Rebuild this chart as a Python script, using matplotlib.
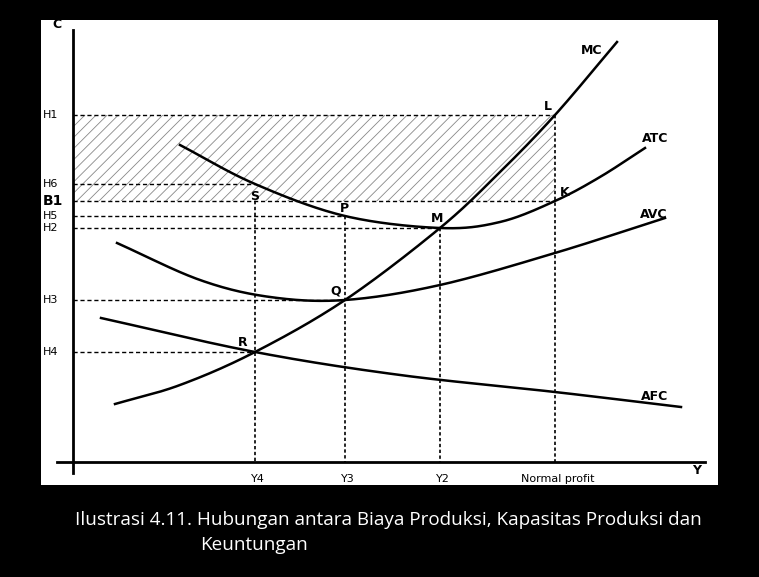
import matplotlib.pyplot as plt
import numpy as np
from matplotlib.patches import Rectangle

# curve points (image pixel coords, y down)
mc_x = [115, 180, 255, 345, 440, 500, 555, 617]
mc_y = [404, 385, 352, 300, 228, 172, 115, 42]
atc_x = [180, 255, 345, 440, 500, 555, 600, 645]
atc_y = [145, 184, 216, 228, 222, 201, 177, 148]
avc_x = [117, 200, 270, 345, 440, 555, 665]
avc_y = [243, 280, 297, 300, 285, 253, 218]
afc_x = [101, 255, 400, 555, 681]
afc_y = [318, 352, 375, 392, 407]

h_labels = ['H1', 'H6', 'B1', 'H5', 'H2', 'H3', 'H4']
h_vals = [115, 184, 201, 216, 228, 300, 352]
h_ends = [555, 255, 555, 345, 440, 345, 255]

y_labels = ['Y4', 'Y3', 'Y2', 'Normal profit']
y_vals = [255, 345, 440, 555]
y_tops = [201, 216, 228, 115]

points = {'S': (255, 197), 'P': (344, 208), 'M': (437, 219), 'Q': (336, 291),
          'R': (243, 343), 'L': (548, 106), 'K': (565, 192)}
curve_names = {'MC': (592, 51), 'ATC': (655, 138), 'AVC': (654, 214), 'AFC': (655, 397)}


def smooth(xs, ys):
    # catmull-rom through the read points
    p = np.column_stack([xs, ys]).astype(float)
    p = np.vstack([2 * p[0] - p[1], p, 2 * p[-1] - p[-2]])
    out = []
    t = np.linspace(0, 1, 40)[:, None]
    for i in range(1, len(p) - 2):
        p0, p1, p2, p3 = p[i - 1], p[i], p[i + 1], p[i + 2]
        out.append(0.5 * (2 * p1 + (-p0 + p2) * t + (2 * p0 - 5 * p1 + 4 * p2 - p3) * t ** 2
                          + (-p0 + 3 * p1 - 3 * p2 + p3) * t ** 3))
    out = np.vstack(out)
    return out[:, 0], out[:, 1]


plt.rcParams['hatch.linewidth'] = 0.6
fig = plt.figure(figsize=(7.59, 5.77), dpi=100, facecolor='black')
ax = fig.add_axes([41 / 759, 1 - 485 / 577, 677 / 759, 465 / 577])
ax.set_xlim(41, 718)
ax.set_ylim(485, 20)
ax.set_facecolor('white')
ax.set_xticks([])
ax.set_yticks([])
for s in ax.spines.values():
    s.set_visible(False)

ax.add_patch(Rectangle((73, 115), 555 - 73, 201 - 115, fill=False, hatch='///',
                       edgecolor='#888888', linewidth=0))

ax.plot([73, 73], [30, 473], color='black', lw=2)
ax.plot([57, 705], [462, 462], color='black', lw=2)
ax.text(57, 25, 'C', fontsize=9, fontweight='bold', ha='center', va='center')
ax.text(697, 470, 'Y', fontsize=9, fontweight='bold', ha='center', va='center')

for lab, v, e in zip(h_labels, h_vals, h_ends):
    ax.plot([73, e], [v, v], color='black', lw=1, ls=(0, (3, 2)))
    ax.text(43, v, lab, fontsize=10 if lab == 'B1' else 8,
            fontweight='bold' if lab == 'B1' else 'normal', va='center', ha='left')

for lab, v, top in zip(y_labels, y_vals, y_tops):
    ax.plot([v, v], [top, 462], color='black', lw=1.2, ls=(0, (2, 1.5)))
    ax.text(v + 3, 479, lab, fontsize=8, ha='center', va='center')

for xs, ys in [(mc_x, mc_y), (atc_x, atc_y), (avc_x, avc_y), (afc_x, afc_y)]:
    t, v = smooth(xs, ys)
    ax.plot(t, v, color='black', lw=1.8)

for k, (x, y) in points.items():
    ax.text(x, y, k, fontsize=9, fontweight='bold', ha='center', va='center')
for k, (x, y) in curve_names.items():
    ax.text(x, y, k, fontsize=9, fontweight='bold', ha='center', va='center')

fig.text(75 / 759, 1 - 520 / 577, 'Ilustrasi 4.11. Hubungan antara Biaya Produksi, Kapasitas Produksi dan',
         color='white', fontsize=13.6, va='center', family='Open Sans')
fig.text(200 / 759, 1 - 545 / 577, 'Keuntungan', color='white', fontsize=13.6, va='center',
         family='Open Sans')

fig.savefig('out.png', dpi=100, facecolor='black')
